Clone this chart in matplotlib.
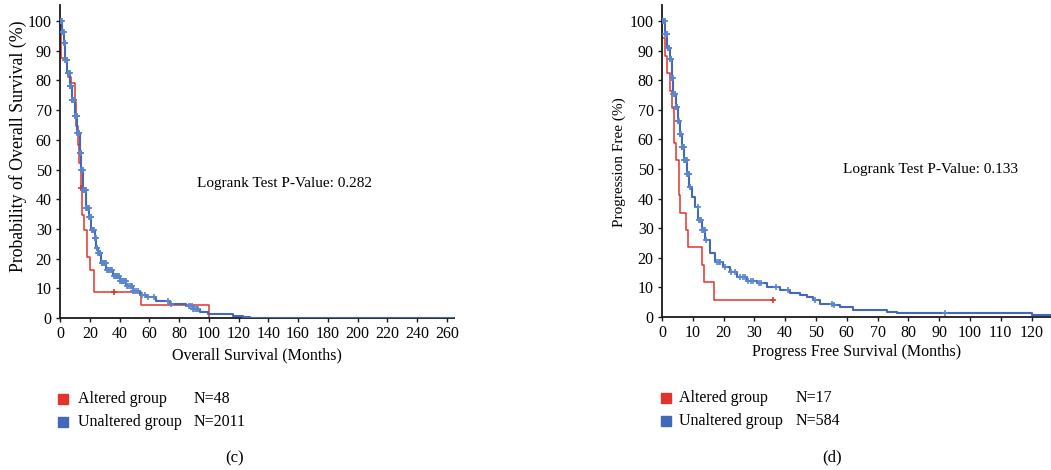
import matplotlib
matplotlib.use("Agg")
import matplotlib.pyplot as plt
from matplotlib.lines import Line2D
import numpy as np

plt.rcParams["font.family"] = ["Liberation Serif", "DejaVu Serif"]

# ---- (c) overall survival ----
os_alt_t = [0, 0.4, 0.9, 4.5, 5.5, 7.2, 10.0, 10.5, 12.1, 13.0, 13.9, 14.6, 16.1, 18.2, 20.0, 22.9, 54.2, 100.0]
os_alt_s = [100, 97.9, 87.5, 83.3, 81.3, 79.2, 72.9, 64.6, 58.3, 52.1, 43.8, 34.7, 29.6, 20.6, 16.2, 8.9, 4.4, 0.0]
os_alt_cens = [14.4, 36.3]

os_unalt_t = [0, 1.4, 2.7, 3.6, 4.9, 6.5, 7.8, 9.9, 11.7, 13.2, 14.4, 15.5, 17.5, 19.5, 21.1, 23.3,
              24.5, 25.5, 27.8, 31.2, 35.6, 40.1, 44.6, 49.1, 53.6, 58.1, 64.8, 73.8, 84.9, 89.4,
              93.9, 99.5, 116.3, 123.0, 128.0, 264.0]
os_unalt_s = [100, 96.4, 92.5, 87.0, 82.4, 78.0, 73.5, 68.0, 62.3, 55.6, 50.0, 43.0, 37.0, 34.0, 29.7, 27.0,
              23.5, 21.9, 18.4, 16.2, 14.0, 12.4, 10.7, 9.0, 7.9, 7.0, 5.6, 4.8, 4.1, 3.0,
              1.9, 1.25, 0.7, 0.2, 0.0, 0.0]
os_unalt_cens = [0.1, 0.3, 0.5, 0.8, 1.0, 1.2, 1.5, 1.7, 1.9, 2.1, 2.3, 2.5, 2.8, 3.0, 3.1, 3.4, 3.6, 3.8,
                 4.0, 4.2, 4.4, 4.6, 4.8, 5.1, 5.3, 5.5, 5.7, 5.9, 6.1, 6.4, 6.6, 6.8, 7.0, 7.2, 7.4,
                 7.6, 7.9, 8.1, 8.3, 8.6, 8.8, 9.0, 9.2, 9.5, 9.7, 9.9, 10.1, 10.4, 10.6, 10.8, 11.0,
                 11.3, 11.5, 11.7, 11.9, 12.2, 12.4, 12.6, 12.8, 13.1, 13.3, 13.5, 13.7, 14.0, 14.2,
                 14.4, 14.6, 14.9, 15.1, 15.4, 15.6, 15.9, 16.2, 16.4, 16.7, 17.0, 17.3, 17.6, 17.9,
                 18.1, 18.4, 18.7, 19.0, 19.3, 19.6, 20.0, 20.3, 20.7, 21.0, 21.4, 21.8, 22.1, 22.5,
                 22.9, 23.4, 23.8, 24.3, 24.7, 25.1, 25.6, 26.0, 26.6, 27.2, 27.9, 28.5, 29.1, 29.8,
                 30.4, 31.0, 31.8, 32.5, 33.2, 34.0, 34.6, 35.2, 36.0, 36.8, 37.5, 38.1, 38.8, 39.5,
                 40.2, 41.0, 41.6, 42.3, 43.1, 43.9, 44.5, 45.2, 46.0, 46.8, 47.5, 48.3, 49.2, 50.0,
                 51.0, 52.1, 55.0, 57.3, 59.0, 63.5, 72.8, 74.5, 86.5, 87.6, 88.7, 89.5, 90.2, 91.5,
                 92.3, 93.0]

# ---- (d) progression free survival ----
pfs_alt_t = [0, 0.1, 1.0, 1.7, 2.6, 3.1, 4.0, 4.5, 5.5, 5.6, 5.8, 7.7, 8.5, 13.1, 13.6, 17.0, 36.2]
pfs_alt_s = [100, 94.1, 88.2, 82.4, 76.5, 70.6, 58.8, 52.9, 47.1, 41.2, 35.3, 29.4, 23.5, 17.6, 11.8, 5.9, 5.9]
pfs_alt_cens = [36.2]

pfs_unalt_t = [0, 1.0, 1.7, 2.6, 3.1, 3.7, 4.4, 5.1, 5.7, 6.4, 7.2, 8.1, 8.9, 9.7, 10.8, 11.8, 12.9, 14.0,
               15.6, 17.2, 19.9, 22.1, 24.2, 27.5, 30.7, 34.0, 38.3, 41.6, 44.8, 47.0, 49.1, 51.3,
               55.6, 57.8, 62.1, 73.0, 76.2, 120.0, 127.0]
pfs_unalt_s = [100, 95.5, 91.0, 87.1, 80.9, 75.3, 70.8, 66.3, 61.9, 57.4, 52.9, 48.4, 43.9, 40.6, 37.2, 32.7,
               29.3, 26.0, 21.5, 18.7, 17.0, 15.3, 13.6, 12.0, 11.4, 10.3, 9.1, 8.0, 7.4, 6.8, 5.7, 4.4,
               4.0, 3.5, 2.4, 1.8, 1.2, 0.56, 0.56]
pfs_unalt_cens = [0.1, 0.2, 0.4, 0.5, 0.7, 0.9, 1.1, 1.3, 1.5, 1.6, 1.8, 2.0, 2.2, 2.4, 2.6, 2.8, 3.0,
                  3.2, 3.4, 3.5, 3.7, 3.9, 4.1, 4.3, 4.5, 4.6, 4.8, 5.0, 5.2, 5.3, 5.5, 5.7, 5.9, 6.0,
                  6.2, 6.4, 6.6, 6.7, 6.9, 7.1, 7.3, 7.4, 7.6, 7.8, 8.0, 8.1, 8.3, 8.5, 8.7, 8.8, 9.0,
                  9.2, 11.6, 12.0, 12.3, 12.7, 13.0, 13.3, 13.5, 13.8, 14.2, 17.8, 18.4, 18.9, 20.5,
                  22.3, 23.8, 25.4, 26.2, 27.1, 27.9, 28.8, 29.5, 31.5, 32.2, 36.9, 41.0, 49.6, 55.2,
                  55.9, 91.8]

RED = "#E2342A"
BLUE = "#4169B8"
BLUE_M = "#5A86CF"


def surv_at(t, s, c):
    idx = np.searchsorted(t, c, side="right") - 1
    return np.asarray(s)[idx]


def km(ax, t, s, cens, color, mcolor, ms, lw, z):
    ax.step(t, s, where="post", color=color, lw=lw, zorder=z)
    ax.plot(cens, surv_at(t, s, cens), ls="none", marker="+", color=mcolor, ms=ms, mew=1.2, zorder=z)


def style(ax, xmax, xstep):
    ax.set_ylim(0, 105.4)
    ax.set_xlim(0, xmax)
    ax.set_yticks(np.arange(0, 101, 10))
    ax.set_xticks(np.arange(0, xmax, xstep))
    ax.spines["top"].set_visible(False)
    ax.spines["right"].set_visible(False)
    for sp in ("left", "bottom"):
        ax.spines[sp].set_color("#1a1a1a")
        ax.spines[sp].set_linewidth(1.3)
    ax.tick_params(direction="out", length=3, width=1, color="#1a1a1a", labelsize=11.5, pad=3)


fig = plt.figure(figsize=(10.51, 4.70), dpi=100)

ax1 = fig.add_axes([60 / 1051, 152 / 470, 394 / 1051, 313 / 470])
km(ax1, os_alt_t, os_alt_s, os_alt_cens, RED, RED, 5, 1.1, 2)
km(ax1, os_unalt_t, os_unalt_s, os_unalt_cens, BLUE, BLUE_M, 4.5, 1.5, 3)
style(ax1, 264.8, 20)
fig.text(197 / 1051, 1 - 183 / 470, "Logrank Test P-Value: 0.282", fontsize=11, va="center", ha="left")

ax2 = fig.add_axes([662 / 1051, 153 / 470, 389 / 1051, 312 / 470])
km(ax2, pfs_alt_t, pfs_alt_s, pfs_alt_cens, RED, RED, 5, 1.1, 2)
km(ax2, pfs_unalt_t, pfs_unalt_s, pfs_unalt_cens, BLUE, BLUE_M, 4.5, 1.5, 3)
style(ax2, 126.3, 10)
fig.text(843 / 1051, 1 - 169 / 470, "Logrank Test P-Value: 0.133", fontsize=11, va="center", ha="left")

# axis titles
fig.text(18 / 1051, 1 - 146 / 470, "Probability of Overall Survival (%)", rotation=90,
         ha="center", va="center", fontsize=12.8)
fig.text(619 / 1051, 1 - 162 / 470, "Progression Free (%)", rotation=90,
         ha="center", va="center", fontsize=11)
fig.text(257 / 1051, 1 - 355 / 470, "Overall Survival (Months)", ha="center", va="center", fontsize=11.5)
fig.text(857 / 1051, 1 - 352 / 470, "Progress Free Survival (Months)", ha="center", va="center", fontsize=11.5)

# legends
legend_c = [("Altered group", "N=48", RED), ("Unaltered group", "N=2011", BLUE)]
legend_d = [("Altered group", "N=17", RED), ("Unaltered group", "N=584", BLUE)]
for entries, xs, xt, xn, y0 in [(legend_c, 63, 78, 194, 399), (legend_d, 666, 679, 796, 398)]:
    for i, (lab, n, col) in enumerate(entries):
        yy = 1 - (y0 + 23 * i) / 470
        fig.add_artist(Line2D([xs / 1051], [yy], marker="s", ms=7, color=col, ls="none",
                              transform=fig.transFigure))
        fig.text(xt / 1051, yy, lab, ha="left", va="center", fontsize=11.5)
        fig.text(xn / 1051, yy, n, ha="left", va="center", fontsize=11.5)

fig.text(235 / 1051, 1 - 458 / 470, "(c)", ha="center", va="center", fontsize=12)
fig.text(832 / 1051, 1 - 457 / 470, "(d)", ha="center", va="center", fontsize=12)

fig.savefig("out.png", dpi=100)
